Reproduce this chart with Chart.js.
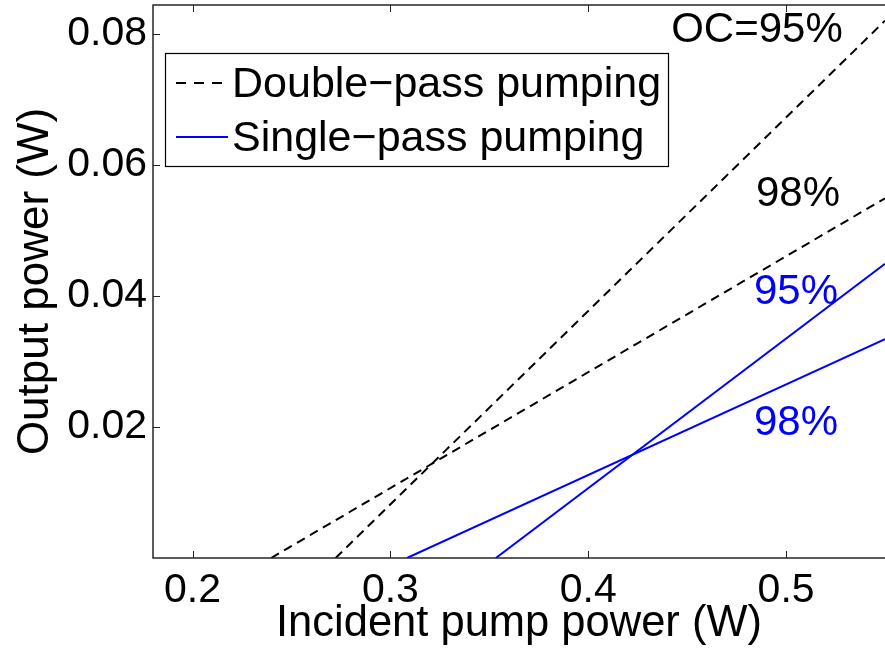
<!DOCTYPE html>
<html>
<head>
<meta charset="utf-8">
<script src="https://cdn.jsdelivr.net/npm/chart.js@4/dist/chart.umd.min.js"></script>
<style>
html, body { margin: 0; padding: 0; background: #fff; }
</style>
</head>
<body>
<canvas id="oc-chart" width="885" height="654"></canvas>
<script>
// incident pump power (W) / output power (W), end points
const pumpDouble95 = [0.2723, 0.55];
const outDouble95 = [0, 0.0820];
const pumpDouble98 = [0.2397, 0.55];
const outDouble98 = [0, 0.0549];
const pumpSingle95 = [0.3533, 0.55];
const outSingle95 = [0, 0.0449];
const pumpSingle98 = [0.3084, 0.55];
const outSingle98 = [0, 0.0334];

const xTicks = [0.2, 0.3, 0.4, 0.5];
const yTicks = [0.02, 0.04, 0.06, 0.08];
const legendLabels = ['Double\u2212pass pumping', 'Single\u2212pass pumping'];

const FONT = '"Liberation Sans", Arial, Helvetica, sans-serif';
const BLUE = '#0000ff';
const DASH = [9, 6];

function toPoints(xs, ys) {
    return xs.map((x, i) => ({ x: x, y: ys[i] }));
}

function lineSet(label, xs, ys, color, dash) {
    return {
        label: label,
        data: toPoints(xs, ys),
        borderColor: color,
        borderWidth: 2,
        borderDash: dash,
        pointRadius: 0,
        fill: false,
        tension: 0
    };
}

// frame, inward ticks, legend box and the curve labels
const decorPlugin = {
    id: 'decor',
    afterDraw(chart) {
        const ctx = chart.ctx;
        const a = chart.chartArea;
        const xs = chart.scales.x;
        const ys = chart.scales.y;
        ctx.save();
        ctx.strokeStyle = '#262626';
        ctx.lineWidth = 1.5;
        ctx.setLineDash([]);
        ctx.beginPath();
        ctx.moveTo(a.right + 2, a.top);
        ctx.lineTo(a.left, a.top);
        ctx.lineTo(a.left, a.bottom);
        ctx.lineTo(a.right + 2, a.bottom);
        ctx.stroke();
        ctx.lineWidth = 1;
        ctx.beginPath();
        xTicks.forEach(v => {
            const px = Math.round(xs.getPixelForValue(v)) + 0.5;
            ctx.moveTo(px, a.bottom); ctx.lineTo(px, a.bottom - 7);
            ctx.moveTo(px, a.top); ctx.lineTo(px, a.top + 7);
        });
        yTicks.forEach(v => {
            const py = Math.round(ys.getPixelForValue(v)) + 0.5;
            ctx.moveTo(a.left, py); ctx.lineTo(a.left + 7, py);
        });
        ctx.stroke();

        // legend
        const box = { x: 165.5, y: 53.5, w: 503, h: 113 };
        ctx.fillStyle = '#fff';
        ctx.fillRect(box.x, box.y, box.w, box.h);
        ctx.strokeStyle = '#000';
        ctx.lineWidth = 1.2;
        ctx.strokeRect(box.x, box.y, box.w, box.h);
        const rows = [83, 137];
        chart.data.datasets.slice(0, 2).forEach((ds, i) => {
            ctx.strokeStyle = ds.borderColor;
            ctx.lineWidth = 2;
            ctx.setLineDash(i === 0 ? [10, 8] : []);
            ctx.beginPath();
            ctx.moveTo(176, rows[i]);
            ctx.lineTo(228, rows[i]);
            ctx.stroke();
            ctx.setLineDash([]);
            ctx.fillStyle = '#000';
            ctx.font = '43px ' + FONT;
            ctx.textAlign = 'left';
            ctx.textBaseline = 'middle';
            ctx.fillText(legendLabels[i], 232, rows[i] + 2);
        });

        // curve labels
        const notes = [
            { t: 'OC=95%', x: 757, y: 30, c: '#000' },
            { t: '98%', x: 798, y: 194, c: '#000' },
            { t: '95%', x: 796, y: 292, c: BLUE },
            { t: '98%', x: 796, y: 423, c: BLUE }
        ];
        ctx.font = '42px ' + FONT;
        ctx.textAlign = 'center';
        ctx.textBaseline = 'middle';
        notes.forEach(n => {
            ctx.fillStyle = n.c;
            ctx.fillText(n.t, n.x, n.y);
        });
        ctx.restore();
    }
};

const ctxChart = document.getElementById('oc-chart').getContext('2d');
const chart = new Chart(ctxChart, {
    type: 'line',
    data: {
        datasets: [
            lineSet('Double-pass pumping', pumpDouble95, outDouble95, '#000', DASH),
            lineSet('Single-pass pumping', pumpSingle95, outSingle95, BLUE, []),
            lineSet('Double-pass 98%', pumpDouble98, outDouble98, '#000', DASH),
            lineSet('Single-pass 98%', pumpSingle98, outSingle98, BLUE, [])
        ]
    },
    options: {
        responsive: false,
        animation: false,
        layout: { padding: { left: 0, right: 0, top: 5, bottom: 0 } },
        plugins: {
            legend: { display: false },
            tooltip: { enabled: false }
        },
        scales: {
            x: {
                type: 'linear',
                min: 0.18,
                max: 0.55,
                grid: { display: false, drawTicks: false },
                border: { display: false },
                afterBuildTicks: s => { s.ticks = xTicks.map(v => ({ value: v })); },
                afterFit: s => { s.height = 96; s.paddingLeft = 0; s.paddingRight = 0; },
                ticks: {
                    color: '#000',
                    padding: 8,
                    maxRotation: 0,
                    font: { family: FONT, size: 41 },
                    callback: v => v.toFixed(1)
                },
                title: {
                    display: true,
                    text: 'Incident pump power (W)',
                    color: '#000',
                    padding: { top: 0, bottom: 4 },
                    font: { family: FONT, size: 43.5 }
                }
            },
            y: {
                min: 0,
                max: 0.0844,
                grid: { display: false, drawTicks: false },
                border: { display: false },
                afterBuildTicks: s => { s.ticks = yTicks.map(v => ({ value: v })); },
                afterFit: s => { s.width = 153; s.paddingTop = 0; s.paddingBottom = 0; },
                ticks: {
                    color: '#000',
                    padding: 6,
                    font: { family: FONT, size: 41 },
                    callback: v => v.toFixed(2)
                },
                title: {
                    display: true,
                    text: 'Output power (W)',
                    color: '#000',
                    padding: { top: 9, bottom: 0 },
                    font: { family: FONT, size: 44 }
                }
            }
        }
    },
    plugins: [decorPlugin]
});
</script>
</body>
</html>
